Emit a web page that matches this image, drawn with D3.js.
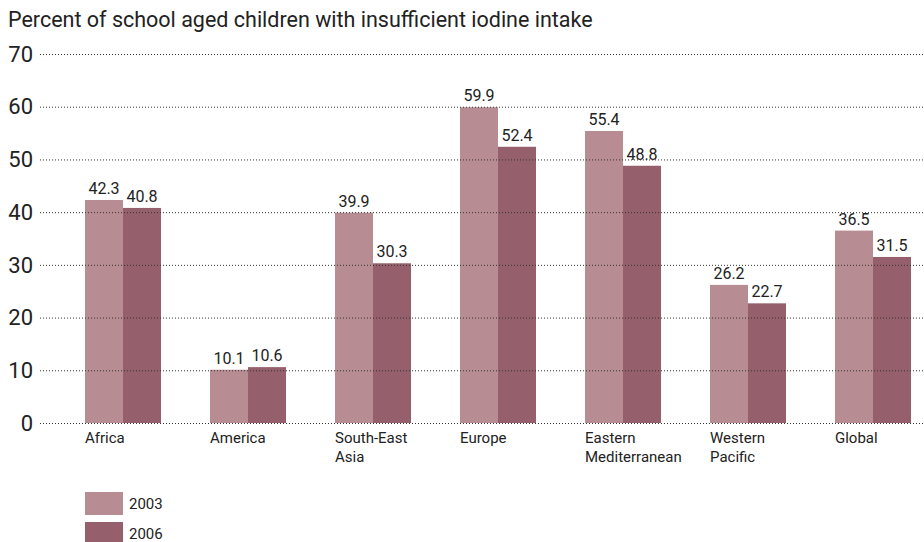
<!DOCTYPE html>
<html lang="en">
<head>
    <meta charset="UTF-8">
    <script src="https://d3js.org/d3.v7.min.js"></script>
    <style>
        body { margin: 0; background: white; }
        text { font-family: "Roboto", Arial, sans-serif; fill: #222; }
    </style>
</head>
<body>
    <svg id="chart" width="924" height="542"></svg>
    <script>
        const regions = [["Africa"], ["America"], ["South-East", "Asia"], ["Europe"],
                         ["Eastern", "Mediterranean"], ["Western", "Pacific"], ["Global"]];
        const years = ["2003", "2006"];
        const values2003 = [42.3, 10.1, 39.9, 59.9, 55.4, 26.2, 36.5];
        const values2006 = [40.8, 10.6, 30.3, 52.4, 48.8, 22.7, 31.5];
        const yTicks = [0, 10, 20, 30, 40, 50, 60, 70];

        const width = 924, height = 542;
        const colors = { "2003": "#b78d93", "2006": "#955f6b" };

        const data = regions.map((r, i) => ({
            key: r.join(" "), lines: r,
            vals: [{ year: "2003", v: values2003[i] }, { year: "2006", v: values2006[i] }]
        }));

        const svg = d3.select("#chart");

        svg.append("text")
            .attr("x", 8).attr("y", 27)
            .style("font-size", "21.5px")
            .text("Percent of school aged children with insufficient iodine intake");

        const x0 = d3.scaleBand().domain(data.map(d => d.key))
            .range([60.5, 935.5]).paddingInner(0.392).paddingOuter(0.196);
        const x1 = d3.scaleBand().domain(years).range([0, x0.bandwidth()]);
        const y = d3.scaleLinear().domain([0, 70]).range([423, 54]);

        // bars
        const groups = svg.append("g").selectAll("g")
            .data(data).enter().append("g")
            .attr("transform", d => `translate(${x0(d.key)},0)`);

        groups.selectAll("rect")
            .data(d => d.vals).enter().append("rect")
            .attr("x", d => x1(d.year))
            .attr("y", d => y(d.v))
            .attr("width", x1.bandwidth())
            .attr("height", d => y(0) - y(d.v))
            .attr("fill", d => colors[d.year]);

        groups.selectAll(".val")
            .data(d => d.vals).enter().append("text")
            .attr("class", "val")
            .attr("x", d => x1(d.year) + x1.bandwidth() / 2)
            .attr("y", d => y(d.v) - 6)
            .attr("text-anchor", "middle")
            .style("font-size", "16px")
            .text(d => d.v.toFixed(1));

        // category labels
        groups.append("text")
            .attr("y", 443)
            .style("font-size", "15px")
            .selectAll("tspan")
            .data(d => d.lines).enter().append("tspan")
            .attr("x", 0)
            .attr("dy", (d, i) => i === 0 ? 0 : 19)
            .text(d => d);

        // gridlines on top of bars
        const grid = svg.append("g").attr("transform", "translate(40,0)")
            .call(d3.axisLeft(y).tickValues(yTicks).tickSize(-(width - 40)).tickFormat(""));
        grid.select(".domain").remove();
        grid.selectAll(".tick line")
            .attr("stroke", "#333")
            .attr("stroke-dasharray", "1,2");

        svg.append("g").selectAll("text")
            .data(yTicks).enter().append("text")
            .attr("x", 33)
            .attr("y", d => y(d))
            .attr("dy", "0.35em")
            .attr("text-anchor", "end")
            .style("font-size", "22px")
            .text(d => d);

        // legend
        const legend = svg.append("g").selectAll("g")
            .data(years).enter().append("g")
            .attr("transform", (d, i) => `translate(85,${492 + i * 30})`);
        legend.append("rect")
            .attr("width", 38).attr("height", 23)
            .attr("fill", d => colors[d]);
        legend.append("text")
            .attr("x", 44).attr("y", 17)
            .style("font-size", "15px")
            .text(d => d);
    </script>
</body>
</html>
